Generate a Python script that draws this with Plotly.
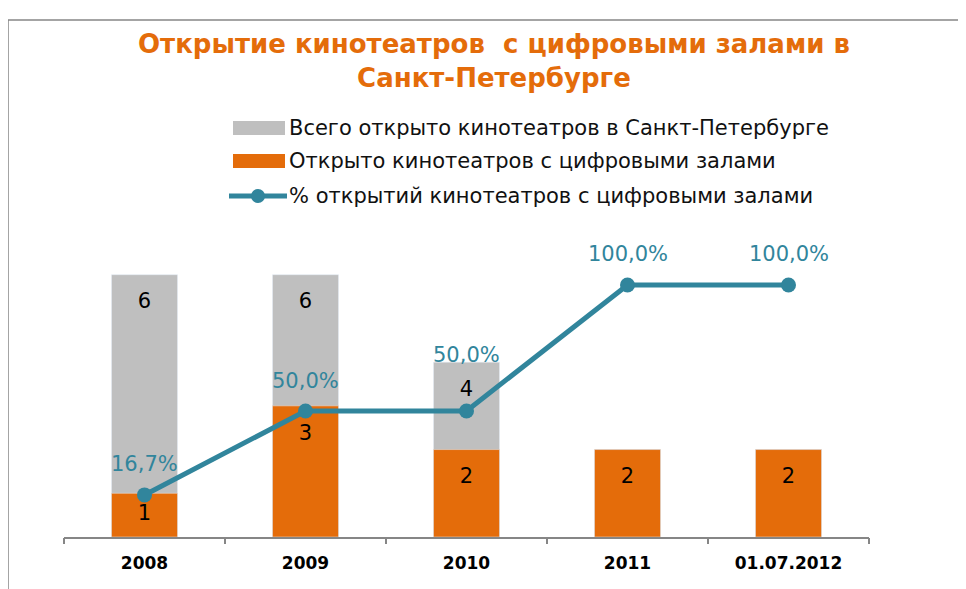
import plotly.graph_objects as go

# данные с графика
categories = ["2008", "2009", "2010", "2011", "01.07.2012"]
total_opened = [6, 6, 4, 2, 2]
digital_opened = [1, 3, 2, 2, 2]
digital_share = [0.167, 0.5, 0.5, 1.0, 1.0]

series_names = [
    "Всего открыто кинотеатров в Санкт-Петербурге",
    "Открыто кинотеатров с цифровыми залами",
    "% открытий кинотеатров с цифровыми залами",
]

ORANGE = "#E46C0A"
GREY = "#BFBFBF"
TEAL = "#31859C"
FONT = "DejaVu Sans"

# страница сдвигает график на 8px (отступ body), поэтому всё считаем в координатах страницы
OFF = 8
W, H = 966, 589
X0, X1, Y0, Y1 = 64, 869, 231, 537  # область построения на странице
L, T = X0 - OFF, Y0 - OFF
R, B = W - (X1 - OFF), H - (Y1 - OFF)
pw, ph = X1 - X0, Y1 - Y0


def px_x(x):
    return (x - X0) / pw


def px_y(y):
    return (Y1 - y) / ph


idx = list(range(len(categories)))

fig = go.Figure()
fig.add_trace(go.Bar(x=idx, y=total_opened, marker_color=GREY, width=0.41,
                     name=series_names[0], showlegend=False))
fig.add_trace(go.Bar(x=idx, y=digital_opened, marker_color=ORANGE, width=0.41,
                     name=series_names[1], showlegend=False))

# подписи внутри столбцов
lab_x, lab_y, lab_t = [], [], []
for i, t, d in zip(idx, total_opened, digital_opened):
    if t > d:
        lab_x.append(i); lab_y.append(max(t - 0.65, t / 2)); lab_t.append(str(t))
    lab_x.append(i); lab_y.append(max(d - 0.65, d / 2)); lab_t.append(str(d))
fig.add_trace(go.Scatter(x=lab_x, y=lab_y, text=lab_t, mode="text",
                         textfont=dict(family=FONT, size=21, color="black"),
                         showlegend=False, hoverinfo="skip"))

fig.add_trace(go.Scatter(x=idx, y=digital_share, yaxis="y2", mode="lines+markers",
                         line=dict(color=TEAL, width=5), marker=dict(color=TEAL, size=15),
                         name=series_names[2], showlegend=False))

# подписи процентов
shifts = [31, 30, 56, 31, 31]
for i, v, s in zip(idx, digital_share, shifts):
    fig.add_annotation(x=i, y=v, yref="y2", text=f"{v * 100:.1f}%".replace(".", ","),
                       showarrow=False, yshift=s,
                       font=dict(family=FONT, size=21, color=TEAL))

# заголовок
fig.add_annotation(xref="paper", yref="paper", x=px_x(494), y=px_y(61),
                   text="<b>Открытие кинотеатров  с цифровыми залами в<br>Санкт-Петербурге</b>",
                   showarrow=False, xanchor="center", yanchor="middle",
                   font=dict(family=FONT, size=26, color=ORANGE))

# легенда
shapes = []
legend_rows = [128, 161, 196]
for i, (name, yy) in enumerate(zip(series_names, legend_rows)):
    if i < 2:
        shapes.append(dict(type="rect", xref="paper", yref="paper",
                           x0=px_x(233), x1=px_x(285), y0=px_y(yy - 7), y1=px_y(yy + 7),
                           fillcolor=[GREY, ORANGE][i], line_width=0))
    else:
        shapes.append(dict(type="line", xref="paper", yref="paper",
                           x0=px_x(229), x1=px_x(287), y0=px_y(yy), y1=px_y(yy),
                           line=dict(color=TEAL, width=5)))
        shapes.append(dict(type="circle", xref="paper", yref="paper",
                           x0=px_x(251), x1=px_x(265), y0=px_y(yy - 7), y1=px_y(yy + 7),
                           fillcolor=TEAL, line_width=0))
    fig.add_annotation(xref="paper", yref="paper", x=px_x(287), y=px_y(yy), text=name,
                       showarrow=False, xanchor="left", yanchor="middle",
                       font=dict(family=FONT, size=21, color="#111111"))

# рамка
shapes.append(dict(type="line", xref="paper", yref="paper", x0=px_x(8), x1=px_x(980),
                   y0=px_y(20), y1=px_y(20), line=dict(color="#868686", width=1.5)))
shapes.append(dict(type="line", xref="paper", yref="paper", x0=px_x(8), x1=px_x(8),
                   y0=px_y(20), y1=px_y(600), line=dict(color="#868686", width=1.5)))

fig.update_layout(
    width=W, height=H, margin=dict(l=L, r=R, t=T, b=B),
    barmode="overlay",
    plot_bgcolor="white", paper_bgcolor="white",
    font=dict(family=FONT, color="black"),
    shapes=shapes,
    xaxis=dict(range=[-0.5, len(categories) - 0.5], tickmode="array", tickvals=idx,
               ticktext=categories, showline=True, linecolor="#868686", linewidth=2,
               ticks="", tickangle=0, automargin=False, zeroline=False,
               ticklabelstandoff=10,
               tickfont=dict(family=FONT, size=17, color="black", weight="bold"),
               showgrid=False),
    xaxis2=dict(range=[-0.5, len(categories) - 0.5], overlaying="x", tickmode="array",
                tickvals=[i - 0.5 for i in range(len(categories) + 1)], ticktext=[""] * 6,
                ticks="outside", ticklen=6, tickcolor="#868686", tickwidth=2,
                side="bottom", showgrid=False, zeroline=False, automargin=False),
    yaxis=dict(range=[0, 7], visible=False, showgrid=False),
    yaxis2=dict(range=[0, 1.214], overlaying="y", visible=False, showgrid=False),
)
# пустой след, чтобы нарисовать засечки между категориями на xaxis2
fig.add_trace(go.Scatter(x=[0], y=[0], xaxis="x2", mode="none", showlegend=False,
                         hoverinfo="skip"))

fig.write_html("out.html")
